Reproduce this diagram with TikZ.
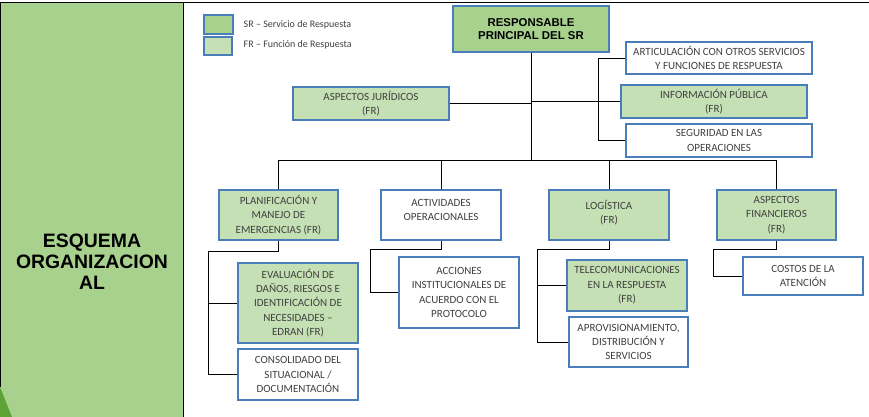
\documentclass[tikz,border=0pt]{standalone}
\usepackage{fontspec}
\setmainfont{Carlito}
\newfontfamily\arialfont{Liberation Sans}
\usetikzlibrary{positioning}

\definecolor{srgreen}{HTML}{A9D18E}
\definecolor{frgreen}{HTML}{C5E0B4}
\definecolor{boxblue}{HTML}{4A7EBB}
\definecolor{textgray}{HTML}{404040}
\definecolor{leafgreen}{HTML}{5CA234}

\begin{document}
\begin{tikzpicture}[x=1pt, y=-1pt, thick,
  box/.style={draw=boxblue, line width=1.3pt, align=center, inner sep=0pt,
    text=textgray, font={\fontsize{11}{14.4}\selectfont}},
  srbox/.style={box, fill=srgreen},
  frbox/.style={box, fill=frgreen},
  plainbox/.style={box, fill=white},
  link/.style={draw=black, line width=0.9pt}]
  \useasboundingbox (0,0) rectangle (869,417);

  % panel
  \fill[srgreen] (0,2) rectangle (183,417);
  \fill[leafgreen] (0,387) -- (12,417) -- (0,417) -- cycle;
  \draw[line width=0.9pt] (0,387) -- (0,2) -- (869,2);
  \draw[line width=0.9pt] (183,2) -- (183,417);
  \node[align=center, font={\arialfont\bfseries\fontsize{19.4}{21}\selectfont}] (titulo)
    at (92,262) {ESQUEMA\\ORGANIZACION\\AL};

  % leyenda
  \node[srbox, minimum width=29pt, minimum height=19pt] (leysr) at (218.5,24.5) {};
  \node[frbox, minimum width=28pt, minimum height=18pt] (leyfr) at (218,46) {};
  \node[anchor=west, text=textgray, font={\fontsize{10}{11}\selectfont}] (txtsr)
    at (240,25) {SR -- Servicio de Respuesta};
  \node[anchor=west, text=textgray, font={\fontsize{10}{11}\selectfont}] (txtfr)
    at (240,45) {FR -- Función de Respuesta};

  % nivel superior
  \node[srbox, minimum width=156pt, minimum height=46pt, text=black,
    font={\arialfont\bfseries\fontsize{11.4}{12.5}\selectfont}] (root)
    at (531,29) {RESPONSABLE\\PRINCIPAL DEL SR};
  \node[plainbox, minimum width=186pt, minimum height=32pt] (artic)
    at (719,58) {ARTICULACIÓN CON OTROS SERVICIOS\\Y FUNCIONES DE RESPUESTA};
  \node[frbox, minimum width=186pt, minimum height=33pt] (info)
    at (714,101.5) {INFORMACIÓN PÚBLICA\\(FR)};
  \node[plainbox, minimum width=186pt, minimum height=33pt] (segur)
    at (719,140.5) {SEGURIDAD EN LAS\\OPERACIONES};
  \node[frbox, minimum width=156pt, minimum height=33pt] (jurid)
    at (371,103.5) {ASPECTOS JURÍDICOS\\(FR)};
  \coordinate (busmid) at (531,161);

  % segundo nivel
  \node[frbox, minimum width=119pt, minimum height=50pt] (planif)
    at (278.5,215) {PLANIFICACIÓN Y\\MANEJO DE\\EMERGENCIAS (FR)};
  \node[plainbox, minimum width=120pt, minimum height=50pt] (activ)
    at (441,215) {ACTIVIDADES\\OPERACIONALES\\[-4pt]};
  \node[frbox, minimum width=120pt, minimum height=50pt] (logis)
    at (609,215) {LOGÍSTICA\\(FR)\\[-8pt]};
  \node[frbox, minimum width=119pt, minimum height=50pt] (finan)
    at (776.5,215) {ASPECTOS\\FINANCIEROS\\(FR)};

  % tercer nivel
  \node[frbox, minimum width=120pt, minimum height=80pt] (evalua)
    at (298,303) {EVALUACIÓN DE\\DAÑOS, RIESGOS E\\IDENTIFICACIÓN DE\\NECESIDADES --\\EDRAN (FR)};
  \node[plainbox, minimum width=120pt, minimum height=51pt] (consol)
    at (298,374.5) {CONSOLIDADO DEL\\SITUACIONAL /\\DOCUMENTACIÓN};
  \node[plainbox, minimum width=120pt, minimum height=71pt] (accion)
    at (459,292.5) {ACCIONES\\INSTITUCIONALES DE\\ACUERDO CON EL\\PROTOCOLO};
  \node[frbox, minimum width=120pt, minimum height=51pt] (telec)
    at (627,285.5) {TELECOMUNICACIONES\\EN LA RESPUESTA\\(FR)};
  \node[plainbox, minimum width=119pt, minimum height=50pt] (aprov)
    at (628.5,342) {APROVISIONAMIENTO,\\DISTRIBUCIÓN Y\\SERVICIOS};
  \node[plainbox, minimum width=120pt, minimum height=38pt] (costos)
    at (803,276) {COSTOS DE LA\\ATENCIÓN};

  % conexiones
  \draw[link] (root) -- (busmid);
  \draw[link] (jurid.east) -- (jurid.east -| root.south);
  \draw[link] (root.south |- info.west) -- (info.west);
  \draw[link] (artic.west) -- ++(-27,0) |- (segur.west);
  \draw[link] (planif.north) -- ++(0,-29) -| (finan.north);
  \draw[link] (activ.north) -- (activ.north |- busmid);
  \draw[link] (logis.north) -- (logis.north |- busmid);

  \draw[link] (planif.south) -- ++(0,11) -| ([xshift=-29pt]consol.west) -- (consol.west);
  \draw[link] ([xshift=-29pt]evalua.west) -- (evalua.west);
  \draw[link] (activ.south) -- ++(0,9) -| ([xshift=-28pt]accion.west) -- (accion.west);
  \draw[link] (logis.south) -- ++(0,9) -| ([xshift=-31pt]aprov.west) -- (aprov.west);
  \draw[link] ([xshift=-29pt]telec.west) -- (telec.west);
  \draw[link] (finan.south) -- ++(0,9) -| ([xshift=-29pt]costos.west) -- (costos.west);
\end{tikzpicture}
\end{document}
